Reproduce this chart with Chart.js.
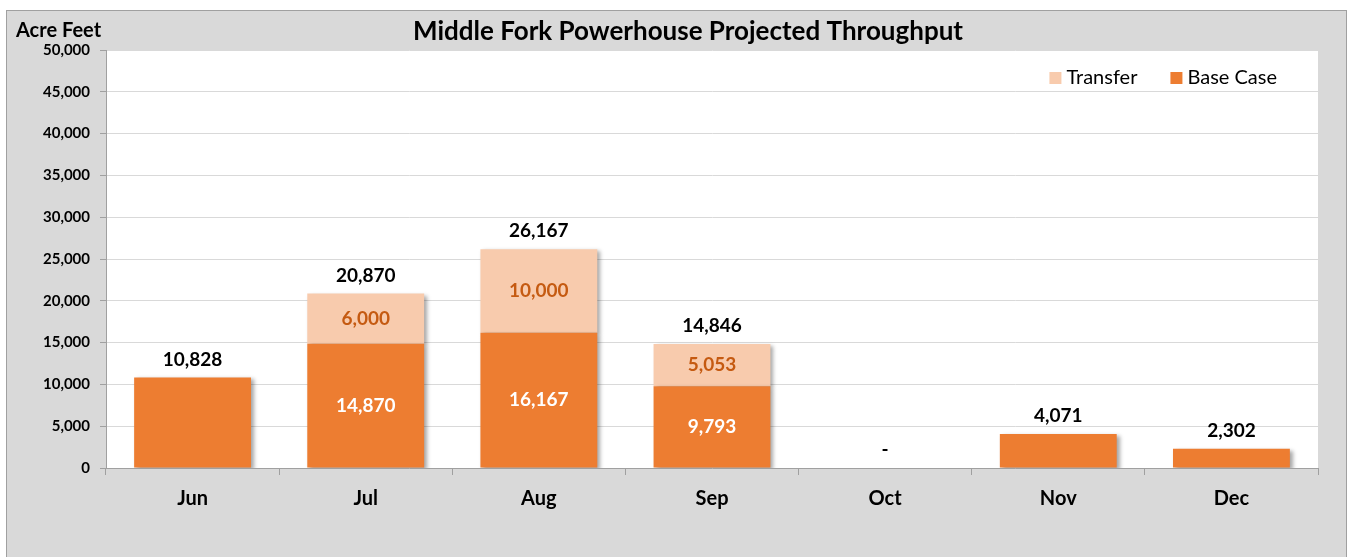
<!DOCTYPE html>
<html>
<head>
<meta charset="utf-8">
<script src="https://cdn.jsdelivr.net/npm/chart.js@4"></script>
<style>
  html, body { margin: 0; padding: 0; background: #fff; }
  #wrap { width: 1349px; height: 557px; }
</style>
</head>
<body>
<div id="wrap"><canvas id="myChart" width="1349" height="557"></canvas></div>
<script>
const months = ["Jun", "Jul", "Aug", "Sep", "Oct", "Nov", "Dec"];
const baseCase = [10828, 14870, 16167, 9793, 0, 4071, 2302];
const transfer = [0, 6000, 10000, 5053, 0, 0, 0];
const totals = [10828, 20870, 26167, 14846, 0, 4071, 2302];

const FONT = "Lato";
const fmt = v => v.toLocaleString("en-US");

// gray frame, white plot area, headings
const framePlugin = {
  id: "frame",
  beforeDraw(chart) {
    const ctx = chart.ctx;
    const a = chart.chartArea;
    ctx.save();
    ctx.fillStyle = "#d9d9d9";
    ctx.fillRect(6, 10, 1341, 560);
    ctx.strokeStyle = "#a0a0a0";
    ctx.lineWidth = 1;
    ctx.strokeRect(6.5, 10.5, 1340, 560);
    ctx.fillStyle = "#fff";
    ctx.fillRect(a.left, a.top, a.right - a.left, a.bottom - a.top);

    ctx.fillStyle = "#000";
    ctx.textBaseline = "middle";
    ctx.textAlign = "center";
    ctx.font = "bold 26px " + FONT;
    ctx.fillText("Middle Fork Powerhouse Projected Throughput", 688, 32);
    ctx.textAlign = "left";
    ctx.font = "bold 20px " + FONT;
    ctx.fillText("Acre Feet", 16, 31);
    ctx.restore();
  },
  // legend drawn inside the plot, top right (Transfer first)
  afterDraw(chart) {
    const ctx = chart.ctx;
    const sets = chart.data.datasets.slice().reverse();
    ctx.save();
    ctx.font = "20px " + FONT;
    ctx.textBaseline = "middle";
    ctx.textAlign = "left";
    let x = 1277;
    const items = [];
    for (let i = sets.length - 1; i >= 0; i--) {
      const w = ctx.measureText(sets[i].label).width;
      x -= w;
      items.unshift({ ds: sets[i], tx: x });
      x -= 5 + 12;
      items[0].bx = x;
      x -= 33;
    }
    items.forEach(it => {
      ctx.fillStyle = it.ds.backgroundColor;
      ctx.fillRect(it.bx, 72, 12, 12);
      ctx.fillStyle = "#000";
      ctx.fillText(it.ds.label, it.tx, 78);
    });
    ctx.restore();
  }
};

// little drop shadow on the bars
const shadowPlugin = {
  id: "barShadow",
  beforeDatasetDraw(chart) {
    const ctx = chart.ctx;
    ctx.save();
    ctx.shadowColor = "rgba(0,0,0,0.35)";
    ctx.shadowBlur = 4;
    ctx.shadowOffsetX = 3;
    ctx.shadowOffsetY = 2;
  },
  afterDatasetDraw(chart) {
    chart.ctx.restore();
  }
};

const labelPlugin = {
  id: "barLabels",
  afterDatasetsDraw(chart) {
    const ctx = chart.ctx;
    const y = chart.scales.y;
    const baseMeta = chart.getDatasetMeta(0);
    const trMeta = chart.getDatasetMeta(1);
    ctx.save();
    ctx.textAlign = "center";
    ctx.textBaseline = "middle";
    ctx.font = "bold 19px " + FONT;
    months.forEach((m, i) => {
      const x = baseMeta.data[i].x;
      if (transfer[i] > 0) {
        const b = baseMeta.data[i];
        ctx.fillStyle = "#fff";
        ctx.fillText(fmt(baseCase[i]), x, (b.y + b.base) / 2);
        const t = trMeta.data[i];
        ctx.fillStyle = "#c55a11";
        ctx.fillText(fmt(transfer[i]), x, (t.y + t.base) / 2);
      }
      ctx.fillStyle = "#000";
      const top = y.getPixelForValue(totals[i]);
      ctx.fillText(totals[i] ? fmt(totals[i]) : "-", x, top - 18);
    });
    ctx.restore();
  }
};

const ctx = document.getElementById("myChart").getContext("2d");
new Chart(ctx, {
  type: "bar",
  data: {
    labels: months,
    datasets: [
      {
        label: "Base Case",
        data: baseCase,
        backgroundColor: "#ed7d31",
        barPercentage: 0.675,
        categoryPercentage: 1
      },
      {
        label: "Transfer",
        data: transfer,
        backgroundColor: "#f8cbad",
        barPercentage: 0.675,
        categoryPercentage: 1
      }
    ]
  },
  options: {
    responsive: false,
    animation: false,
    layout: { padding: { left: 0, top: 50, right: 31, bottom: 0 } },
    plugins: {
      legend: { display: false },
      tooltip: { enabled: false }
    },
    scales: {
      x: {
        stacked: true,
        afterFit(s) { s.height = 89; },
        grid: {
          offset: true,
          drawOnChartArea: false,
          tickLength: 7,
          tickColor: "#a0a0a0"
        },
        border: { color: "#a0a0a0" },
        ticks: {
          color: "#000",
          padding: 12,
          font: { family: FONT, size: 20, weight: "bold" }
        }
      },
      y: {
        stacked: true,
        min: 0,
        max: 50000,
        afterFit(s) { s.width = 106; },
        grid: {
          color: "#d9d9d9",
          tickLength: 6,
          tickColor: "#a0a0a0"
        },
        border: { color: "#a0a0a0" },
        ticks: {
          stepSize: 5000,
          color: "#000",
          padding: 10,
          font: { family: FONT, size: 15, weight: "bold" },
          callback: v => fmt(v)
        }
      }
    }
  },
  plugins: [framePlugin, shadowPlugin, labelPlugin]
});
</script>
</body>
</html>
